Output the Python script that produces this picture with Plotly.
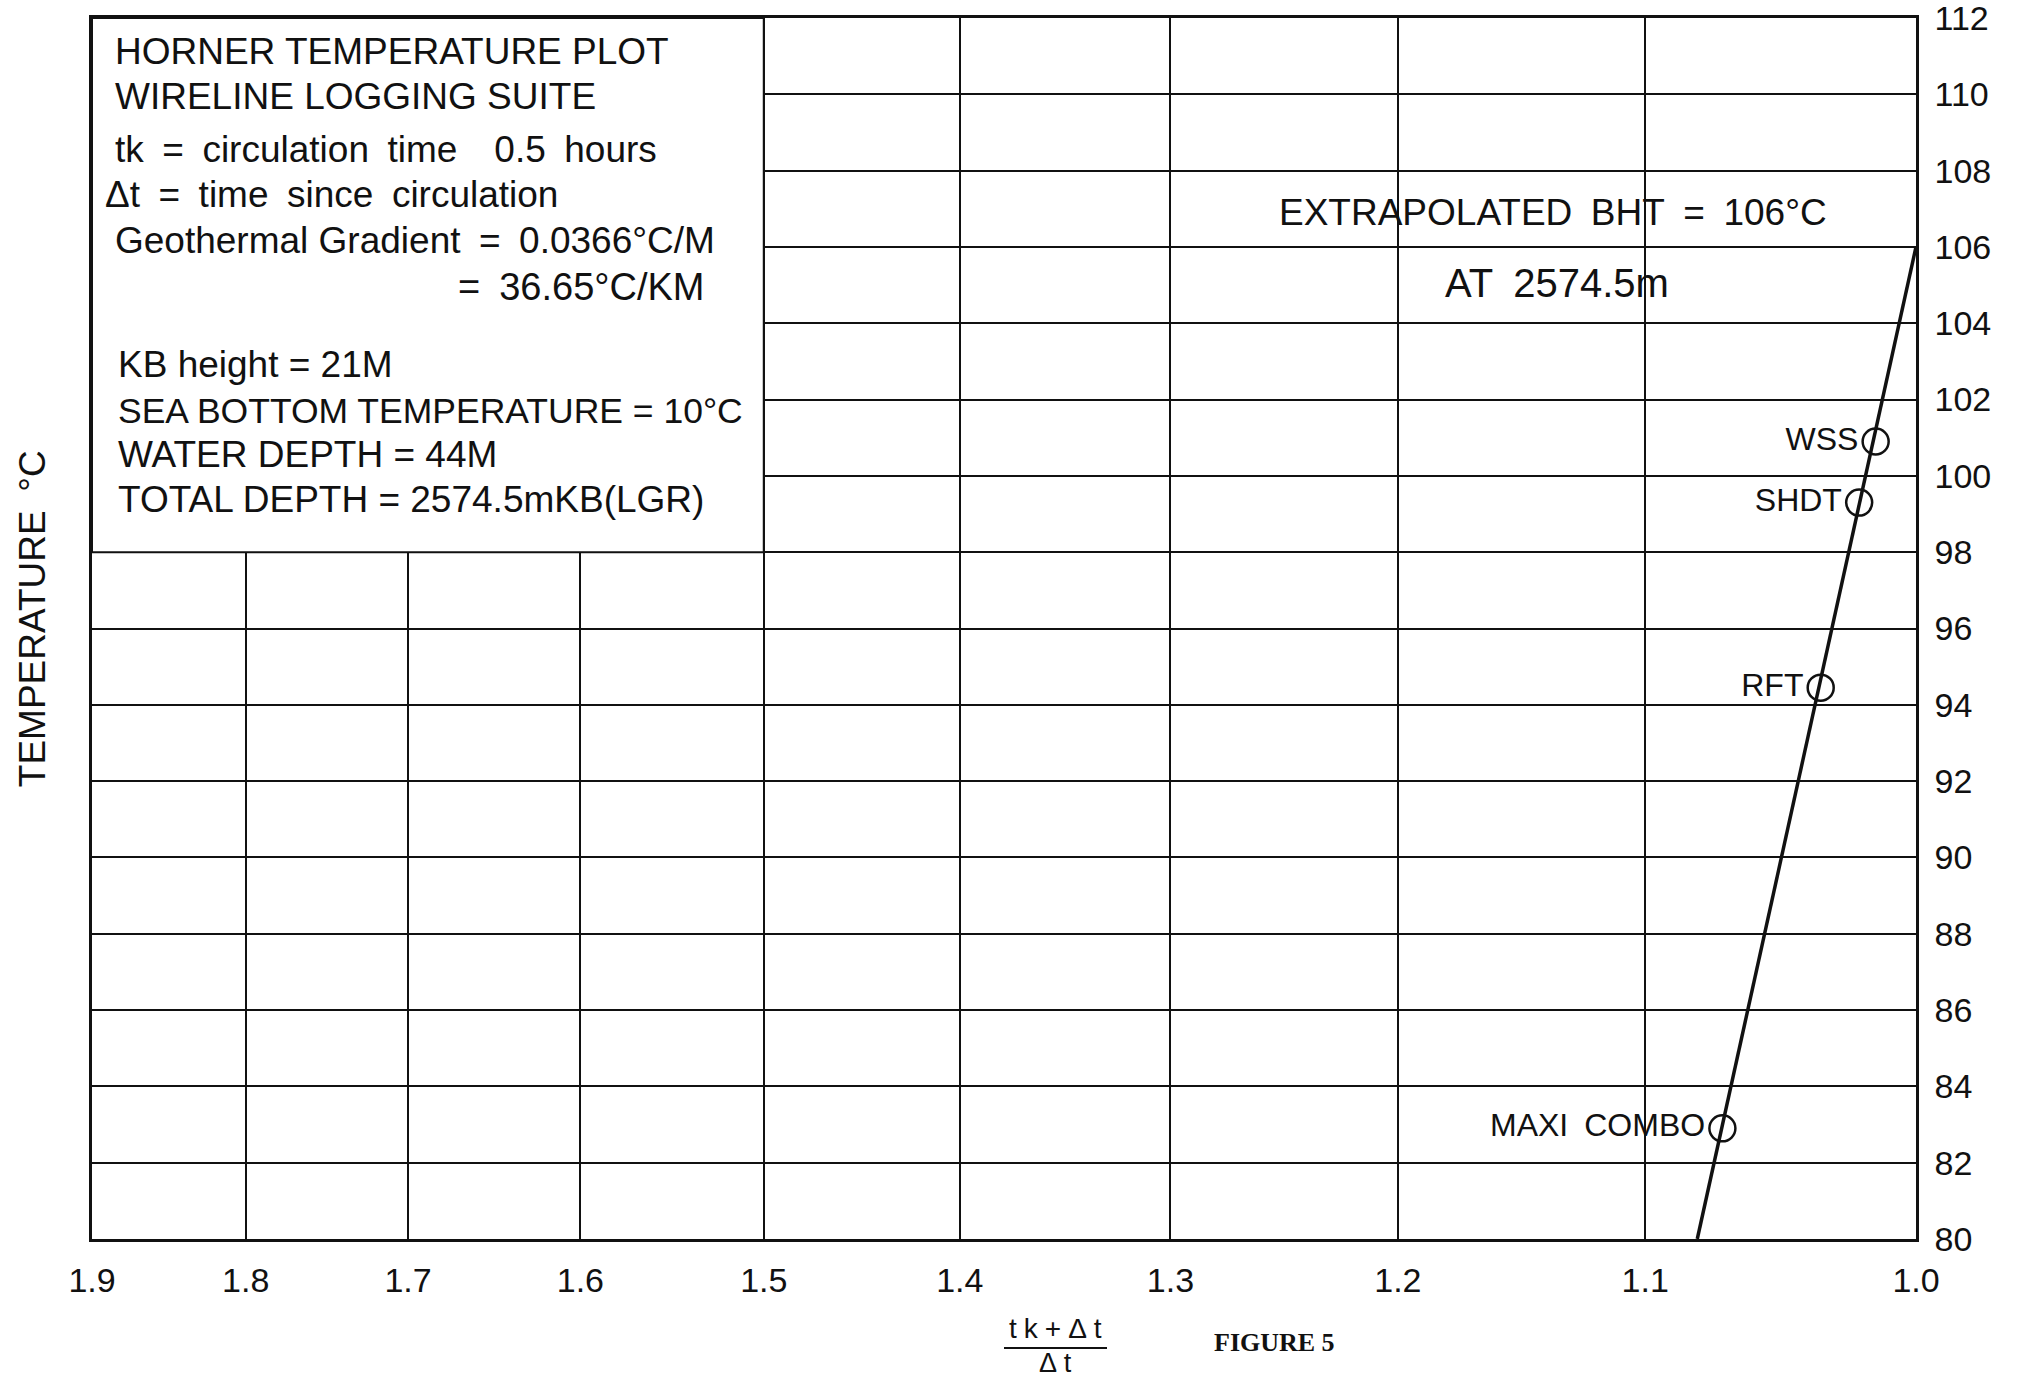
import math
import plotly.graph_objects as go

# ---------------- data ----------------
x_tick_vals = [1.9, 1.8, 1.7, 1.6, 1.5, 1.4, 1.3, 1.2, 1.1, 1.0]
x_tick_text = ["1.9", "1.8", "1.7", "1.6", "1.5", "1.4", "1.3", "1.2", "1.1", "1.0"]
y_tick_vals = [80, 82, 84, 86, 88, 90, 92, 94, 96, 98, 100, 102, 104, 106, 108, 110, 112]
y_tick_text = [str(v) for v in y_tick_vals]

tool_names = ["WSS", "SHDT", "RFT", "MAXI COMBO"]
horner_ratio = [1.0143, 1.0202, 1.0341, 1.0705]
temperature = [100.9, 99.3, 94.45, 82.9]

fit_ratio = [1.0, 1.080]
fit_temp = [106, 80]

EN = "\u2002"
box_lines = [
    "HORNER TEMPERATURE PLOT",
    "WIRELINE LOGGING SUITE",
    f"tk{EN}={EN}circulation{EN}time{EN}{EN}0.5{EN}hours",
    f"\u0394t{EN}={EN}time{EN}since{EN}circulation",
    f"Geothermal Gradient{EN}={EN}0.0366\u00b0C/M",
    f"={EN}36.65\u00b0C/KM",
    "KB height = 21M",
    "SEA BOTTOM TEMPERATURE = 10\u00b0C",
    "WATER DEPTH = 44M",
    "TOTAL DEPTH = 2574.5mKB(LGR)",
]

# ---------------- geometry (page pixels) ----------------
FIG_W, FIG_H = 2018, 1380
PL, PR, PT, PB = 92, 1916, 18, 1239        # plot area


def px(X):
    return (X - PL) / (PR - PL)


def py(Y):
    return (PB - Y) / (PB - PT)


PLOT_FONT = "Liberation Sans, Arial, DejaVu Sans, sans-serif"
BLACK = "#111111"
X_MIN, X_MAX = 1.9, 1.0
Y_MIN, Y_MAX = 80, 112
BOX_X_RIGHT = 1.5
BOX_Y_BOTTOM = 98

fig = go.Figure()

# fitted Horner line
fig.add_trace(go.Scatter(
    x=fit_ratio, y=fit_temp, mode="lines",
    line=dict(color=BLACK, width=3.5), hoverinfo="skip", showlegend=False,
))

# measured temperatures
fig.add_trace(go.Scatter(
    x=horner_ratio, y=temperature, mode="markers+text",
    text=[n.replace(" ", EN) for n in tool_names], textposition="middle left",
    textfont=dict(family=PLOT_FONT, size=32, color=BLACK),
    marker=dict(symbol="circle-open", size=26, color=BLACK, line=dict(width=2.5, color=BLACK)),
    showlegend=False,
))

lmin, lmax = math.log10(X_MIN), math.log10(X_MAX)


def xpaper(v):
    return (lmin - math.log10(v)) / (lmin - lmax)


fig.add_shape(type="rect", xref="paper", yref="y",
              x0=0, x1=xpaper(BOX_X_RIGHT), y0=BOX_Y_BOTTOM, y1=Y_MAX,
              fillcolor="white", line=dict(color=BLACK, width=2), layer="above")

# text block lines: (left x, centre y, size) in page pixels
box_pos = [
    (113, 51.5, 37),
    (113, 96.5, 37),
    (113, 149.3, 37),
    (103, 194.3, 37),
    (113, 240.7, 37),
    (455.6, 287, 38),
    (115.8, 364.2, 37),
    (115.8, 410.6, 35.5),
    (115.8, 454.3, 37),
    (115.8, 499.4, 37),
]
for txt, (X, Y, sz) in zip(box_lines, box_pos):
    fig.add_annotation(text=txt, xref="paper", yref="paper", x=px(X), y=py(Y),
                       xanchor="left", yanchor="middle", showarrow=False,
                       font=dict(family=PLOT_FONT, size=sz, color=BLACK))

fig.add_annotation(text=f"EXTRAPOLATED{EN}BHT{EN}={EN}106\u00b0C", xref="paper", yref="paper",
                   x=px(1276.7), y=py(212.4), xanchor="left", yanchor="middle", showarrow=False,
                   font=dict(family=PLOT_FONT, size=37, color=BLACK))
fig.add_annotation(text=f"AT{EN}2574.5m", xref="paper", yref="paper",
                   x=px(1442.7), y=py(283.1), xanchor="left", yanchor="middle", showarrow=False,
                   font=dict(family=PLOT_FONT, size=40, color=BLACK))

# y axis title
fig.add_annotation(text=f"TEMPERATURE{EN}\u00b0C", xref="paper", yref="paper",
                   x=px(32.2), y=py(619), xanchor="center", yanchor="middle", textangle=-90,
                   showarrow=False, font=dict(family=PLOT_FONT, size=37, color=BLACK))

# x axis title as a fraction
SP = "\u2005"
fig.add_annotation(text=f"t{SP}k{SP}+{SP}\u0394{SP}t", xref="paper", yref="paper",
                   x=px(1055.3), y=py(1328), xanchor="center", yanchor="middle", showarrow=False,
                   font=dict(family=PLOT_FONT, size=28, color=BLACK))
fig.add_shape(type="line", xref="paper", yref="paper",
              x0=px(1004), x1=px(1107), y0=py(1348), y1=py(1348),
              line=dict(color=BLACK, width=2))
fig.add_annotation(text=f"\u0394{SP}t", xref="paper", yref="paper",
                   x=px(1055.3), y=py(1363), xanchor="center", yanchor="middle", showarrow=False,
                   font=dict(family=PLOT_FONT, size=27, color=BLACK))
fig.add_annotation(text="<b>FIGURE 5</b>", xref="paper", yref="paper",
                   x=px(1212), y=py(1342), xanchor="left", yanchor="middle", showarrow=False,
                   font=dict(family="Liberation Serif, Times New Roman, serif", size=26, color=BLACK))

fig.update_xaxes(
    type="log", range=[lmin, lmax],
    tickvals=x_tick_vals, ticktext=x_tick_text, ticks="",
    showgrid=True, gridcolor=BLACK, gridwidth=2,
    showline=True, linecolor=BLACK, linewidth=2.5, mirror=True,
    zeroline=False, ticklabelstandoff=9, ticklabeloverflow="allow", automargin=False,
    tickfont=dict(family=PLOT_FONT, size=34, color=BLACK),
)
fig.update_yaxes(
    range=[Y_MIN, Y_MAX], side="right",
    tickvals=y_tick_vals, ticktext=y_tick_text, ticks="",
    showgrid=True, gridcolor=BLACK, gridwidth=2,
    showline=True, linecolor=BLACK, linewidth=2.5, mirror=True,
    zeroline=False, ticklabelstandoff=9, ticklabeloverflow="allow", automargin=False,
    tickfont=dict(family=PLOT_FONT, size=34, color=BLACK),
)

fig.update_layout(
    width=FIG_W, height=FIG_H,
    margin=dict(l=PL, r=FIG_W - PR, t=PT, b=FIG_H - PB, autoexpand=False),
    paper_bgcolor="white", plot_bgcolor="white",
    showlegend=False,
)

# remove the browser's default 8px body margin so the figure fills the window exactly
fig.write_html("out.html", config={"displayModeBar": False},
               post_script="document.body.style.margin='0px';")
